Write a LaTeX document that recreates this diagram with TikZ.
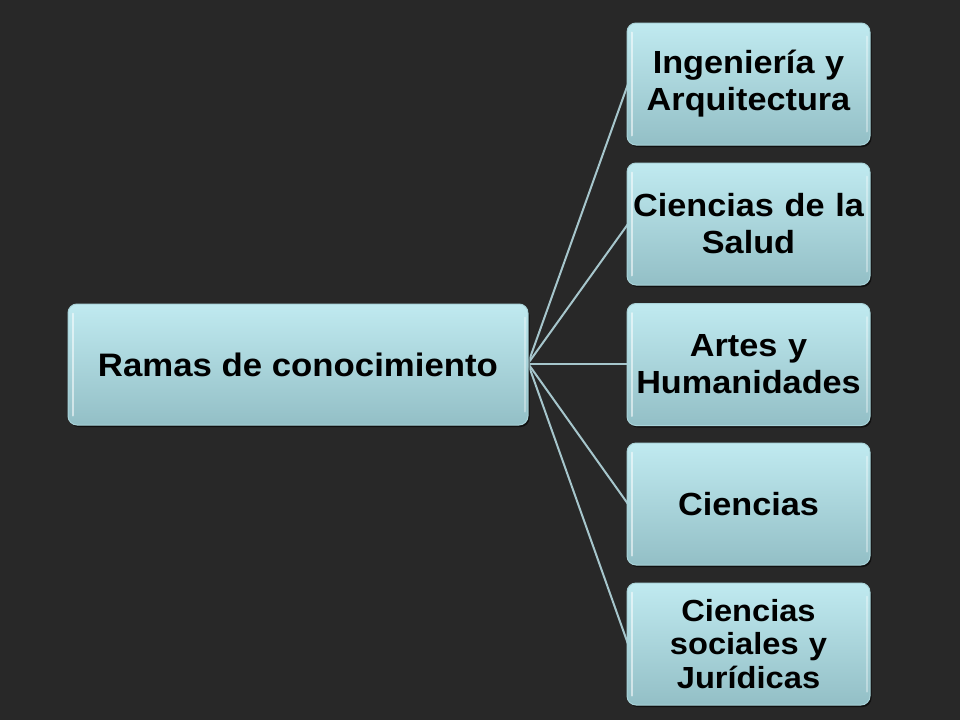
\documentclass[tikz,border=0pt]{standalone}
\usepackage{fontspec}
\setmainfont[FakeStretch=1.07]{Liberation Sans}
\usetikzlibrary{shadows}
\definecolor{bgcol}{HTML}{282828}
\definecolor{boxtop}{HTML}{C0EAF0}
\definecolor{boxbot}{HTML}{93BFC6}
\definecolor{boxedge}{HTML}{A9D3D9}
\definecolor{linkcol}{HTML}{A6C6CC}
\tikzset{
  boxnode/.style={rectangle, rounded corners=9pt, top color=boxtop, bottom color=boxbot,
    draw=boxedge, line width=1pt, align=center, font=\bfseries,
    drop shadow={black, opacity=0.6, shadow xshift=1.5pt, shadow yshift=-2pt},
    inner sep=0pt},
  mainbox/.style={boxnode, minimum width=460pt, minimum height=121pt, font=\fontsize{32.5}{37}\selectfont\bfseries},
  childbox/.style={boxnode, minimum width=243pt, minimum height=122pt, text width=243pt, font=\fontsize{32}{37}\selectfont\bfseries},
  smallchild/.style={childbox, font=\fontsize{30.5}{33.5}\selectfont\bfseries},
  link/.style={draw=linkcol, line width=2pt},
  shine/.style={draw=white, opacity=0.55, line width=2pt, line cap=round}
}
\begin{document}
\begin{tikzpicture}[x=1pt,y=-1pt]
\fill[bgcol] (0,0) rectangle (960,720);
\useasboundingbox (0,0) rectangle (960,720);

\coordinate (hub) at (528,363.5);
\draw[link] (hub) -- (628,84);
\draw[link] (hub) -- (628,224);
\draw[link] (hub) -- (628,363.5);
\draw[link] (hub) -- (628,504);
\draw[link] (hub) -- (628,644);

\node[mainbox] (root) at (298,364.5) {Ramas de conocimiento};
\node[childbox] (c1) at (748.5,84) {Ingeniería y\\Arquitectura};
\node[childbox] (c2) at (748.5,224) {Ciencias de la\\Salud};
\node[childbox] (c3) at (748.5,364.5) {Artes y\\Humanidades};
\node[childbox] (c4) at (748.5,504) {Ciencias};
\node[smallchild] (c5) at (748.5,644) {Ciencias\\sociales y\\Jurídicas};

\foreach \n in {root,c1,c2,c3,c4,c5}{
  \draw[shine] ([shift={(5,-10)}]\n.south west) -- ([shift={(5,10)}]\n.north west);
  \draw[shine, opacity=0.35] ([shift={(-4,-14)}]\n.south east) -- ([shift={(-4,14)}]\n.north east);
}
\end{tikzpicture}
\end{document}
